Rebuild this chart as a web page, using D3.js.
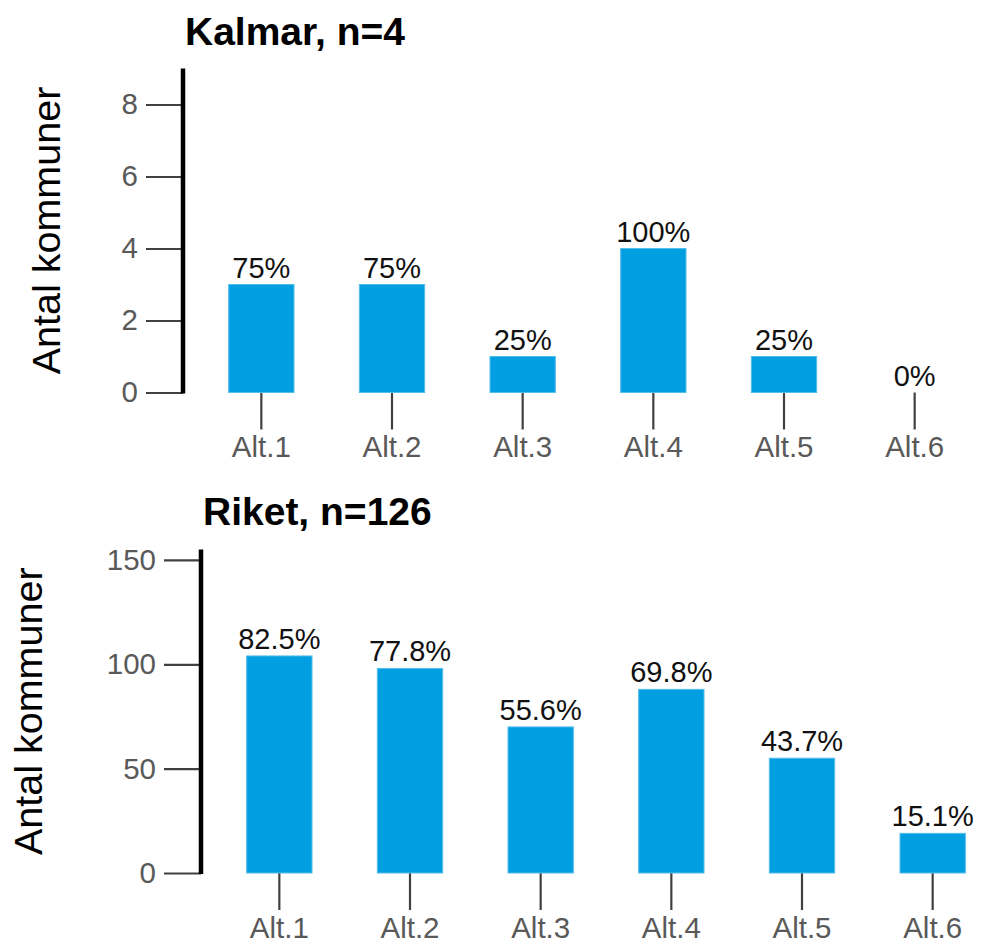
<!DOCTYPE html>
<html>
<head>
<meta charset="utf-8">
<script src="https://cdn.jsdelivr.net/npm/d3@7"></script>
<style>
  html, body { margin: 0; padding: 0; background: #fff; }
  svg { display: block; font-family: "Liberation Sans", Arial, sans-serif; }
</style>
</head>
<body>
<svg id="chart" width="983" height="944"></svg>
<script>
const categories = ["Alt.1", "Alt.2", "Alt.3", "Alt.4", "Alt.5", "Alt.6"];

const kalmarTitle = "Kalmar, n=4";
const kalmarValues = [3, 3, 1, 4, 1, 0];
const kalmarLabels = ["75%", "75%", "25%", "100%", "25%", "0%"];
const kalmarTicks = [0, 2, 4, 6, 8];
const kalmarMax = 9;

const riketTitle = "Riket, n=126";
const riketValues = [104, 98, 70, 88, 55, 19];
const riketLabels = ["82.5%", "77.8%", "55.6%", "69.8%", "43.7%", "15.1%"];
const riketTicks = [0, 50, 100, 150];
const riketMax = 155;

const yLabel = "Antal kommuner";

const svg = d3.select("#chart");

function panel(cfg) {
  const g = svg.append("g");
  const x = d3.scaleBand().domain(categories).range([cfg.x0, cfg.x0 + 784])
    .paddingInner(0.5).paddingOuter(0.25);
  const y = d3.scaleLinear().domain([0, cfg.max]).range([cfg.yBase, cfg.yBase - cfg.max * cfg.ppu]);

  // title
  g.append("text").attr("x", cfg.titleX).attr("y", cfg.titleY)
    .attr("font-size", 39).attr("font-weight", "bold").attr("fill", "#000")
    .text(cfg.title);

  // y label
  g.append("text")
    .attr("transform", `translate(${cfg.labelX},${(y(0) + y(cfg.max)) / 2}) rotate(-90)`)
    .attr("text-anchor", "middle").attr("font-size", 39.5).attr("fill", "#000")
    .text(yLabel);

  // y axis ticks
  const ya = g.append("g").attr("transform", `translate(${cfg.axisX},0)`)
    .call(d3.axisLeft(y).tickValues(cfg.ticks).tickSize(37).tickSizeOuter(0).tickPadding(8));
  ya.select(".domain").remove();
  ya.selectAll(".tick line").attr("stroke", "#404040").attr("stroke-width", 2.2);
  ya.selectAll(".tick text").attr("font-size", 29.5).attr("fill", "#595959")
    .attr("font-family", "'Liberation Sans', Arial, sans-serif");

  // thick axis line
  g.append("line").attr("x1", cfg.axisX).attr("x2", cfg.axisX)
    .attr("y1", y(0) + 1).attr("y2", y(cfg.max))
    .attr("stroke", "#000").attr("stroke-width", 4.5);

  // x axis
  const xa = g.append("g").attr("transform", `translate(0,${y(0)})`)
    .call(d3.axisBottom(x).tickSize(37).tickSizeOuter(0).tickPadding(7));
  xa.select(".domain").remove();
  xa.selectAll(".tick line").attr("stroke", "#404040").attr("stroke-width", 2.2);
  xa.selectAll(".tick text").attr("font-size", 29.5).attr("fill", "#595959")
    .attr("font-family", "'Liberation Sans', Arial, sans-serif");

  // bars
  g.selectAll("rect.bar").data(cfg.values).join("rect").attr("class", "bar")
    .attr("x", (d, i) => x(categories[i]))
    .attr("width", x.bandwidth())
    .attr("y", d => y(d))
    .attr("height", d => y(0) - y(d))
    .attr("fill", "#009FE2")
    .attr("stroke", d => d > 0 ? "#55BDEB" : "none")
    .attr("stroke-width", 1);

  // value labels
  g.selectAll("text.val").data(cfg.values).join("text").attr("class", "val")
    .attr("x", (d, i) => x(categories[i]) + x.bandwidth() / 2)
    .attr("y", d => y(d) - 7)
    .attr("text-anchor", "middle").attr("font-size", 29).attr("fill", "#111")
    .text((d, i) => cfg.labels[i]);
}

panel({
  title: kalmarTitle, values: kalmarValues, labels: kalmarLabels, ticks: kalmarTicks, max: kalmarMax,
  x0: 196, axisX: 183, yBase: 392.5, ppu: 36, titleX: 185, titleY: 45, labelX: 60
});
panel({
  title: riketTitle, values: riketValues, labels: riketLabels, ticks: riketTicks, max: riketMax,
  x0: 214, axisX: 201, yBase: 873, ppu: 2.087, titleX: 203, titleY: 525, labelX: 42
});
</script>
</body>
</html>
